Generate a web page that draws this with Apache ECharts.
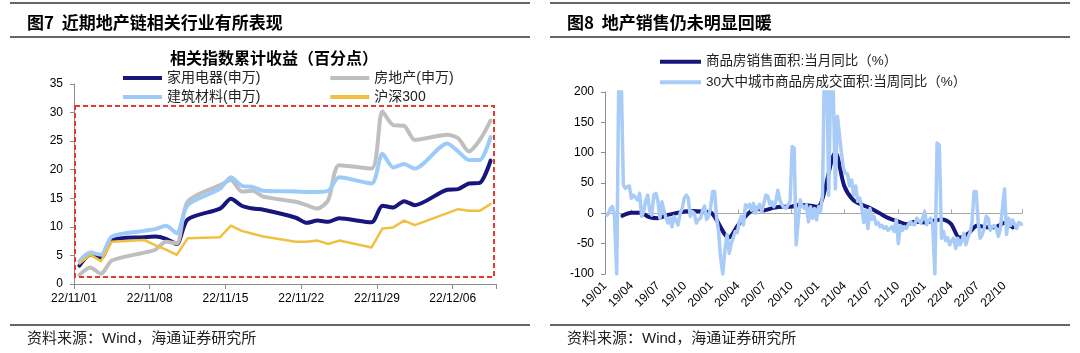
<!DOCTYPE html>
<html>
<head>
<meta charset="utf-8">
<script src="https://cdn.jsdelivr.net/npm/echarts@6/dist/echarts.min.js"></script>
<style>
	html, body { margin: 0; padding: 0; background: #fff; }
	#main { width: 1080px; height: 353px; }
</style>
</head>
<body>
<div id="main"></div>
<script>
// ---------- 图7 相关指数累计收益（百分点） ----------
const tradeDates = ['2022-11-01', '2022-11-02', '2022-11-03', '2022-11-04', '2022-11-07', '2022-11-08', '2022-11-09', '2022-11-10', '2022-11-11',
	'2022-11-14', '2022-11-15', '2022-11-16', '2022-11-17', '2022-11-18', '2022-11-21', '2022-11-22', '2022-11-23', '2022-11-24', '2022-11-25',
	'2022-11-28', '2022-11-29', '2022-11-30', '2022-12-01', '2022-12-02', '2022-12-05', '2022-12-06', '2022-12-07', '2022-12-08', '2022-12-09'];
const homeAppliance = [3.2, 5.1, 4.6, 7.7, 8.2, 8.3, 7.9, 7.0, 11.3, 13.2, 14.9, 13.7, 13.2, 13.0, 11.6, 10.7, 11.1, 10.9, 11.5,
	10.8, 13.7, 13.4, 14.5, 13.8, 16.5, 16.6, 17.6, 17.7, 21.6];
const realEstate = [1.6, 2.9, 1.8, 4.1, 5.5, 6.0, 7.4, 7.1, 14.4, 17.3, 18.2, 16.2, 16.3, 15.3, 14.4, 13.8, 13.2, 14.7, 20.8,
	20.2, 30.2, 27.8, 27.7, 25.2, 26.1, 25.5, 23.2, 25.2, 28.6];
const buildMaterial = [4.0, 5.5, 5.1, 8.3, 9.3, 9.6, 10.2, 8.9, 13.8, 16.7, 18.7, 17.2, 17.0, 16.3, 16.2, 16.1, 16.1, 16.3, 18.7,
	17.6, 22.8, 20.4, 21.0, 20.2, 24.6, 23.2, 21.7, 21.7, 25.7];
const hs300 = [3.6, 5.1, 4.0, 7.4, 7.7, 6.8, 6.0, 5.1, 8.0, 8.2, 10.2, 9.3, 8.8, 8.3, 7.4, 7.4, 7.6, 7.0, 7.6,
	6.4, 9.7, 9.9, 11.1, 10.3, 12.4, 13.1, 12.8, 12.8, 14.0];
const dayLabels = ['22/11/01', '22/11/08', '22/11/15', '22/11/22', '22/11/29', '22/12/06'];

// ---------- 图8 地产销售 ----------
const salesMonths = ['2019-02', '2019-03', '2019-04', '2019-05', '2019-06', '2019-07', '2019-08', '2019-09', '2019-10', '2019-11', '2019-12',
	'2020-02', '2020-03', '2020-04', '2020-05', '2020-06', '2020-07', '2020-08', '2020-09', '2020-10', '2020-11', '2020-12',
	'2021-02', '2021-03', '2021-04', '2021-05', '2021-06', '2021-07', '2021-08', '2021-09', '2021-10', '2021-11', '2021-12',
	'2022-02', '2022-03', '2022-04', '2022-05', '2022-06', '2022-07', '2022-08', '2022-09', '2022-10'];
const salesYoY = [-4, 1, 1, -6, -8, -3, 0, 3, 4, 3, 1,
	-40, -20, -3, 8, 5, 9, 11, 11, 14, 13, 11,
	100, 45, 22, 14, 8, 0, -8, -13, -18, -14, -15,
	-10, -17, -40, -33, -20, -23, -23, -16, -23];
const weekStart = '2019-01-06'; // 周度数据首周
const city30YoY = [
	-5, 0, 8, 11, -5, -100, 250, 230, 47, 41, 44, 45, 25, 30, 26, 22, 33, -5, 3, 20, 30, 5, -3, 30, 33, 20, -8, 19, 5, -8,
	-16, -8, -22, -5, -12, -19, 0, 8, 25, 30, 25, -5, 3, 0, -16, -10, -8, 5, 12,
	-10, -5, 10, 36, 36, -8, -30, -74, -100, -60, -35, -66, -50, -40, -30, -32, -14, -5, -19, 14, 10, 15, 5, 16, 0, 10,
	15, 3, 16, 30, 28, 15, 19, 11, 20, 38, 22, 14, 10, 8, 14, 20, 110, 107, -52, -14, 22, 12, 8,
	14, -14, 11, -8, 8, -11, 11, 3, 30, 260, 250, 30, 240, 210, 40, 160, 130, 100, 75, 66, 65, 45, 55, 30, 45, 20, 25, 10,
	-15, 5, -25, 8, -10, -5, -18, -15, -22, -20, -25, -22, -28, -25, -22, -30, -10, -50, -20, -28, -22,
	-25, -18, -14, -18, -19, -8, -12, -16, -8, 3, -19, -12, -8, -19, -100, 116, 112, -41, -30, -45, -40, -52, -45, -41, -58,
	-41, -52, -45, -33, -52, -40, -32, -15, 36, 36, -15, -41, -35, -25, -5, -8, -28, -22, -20, -25, -38, -25, 10, 40, -35,
	-8, -20, -11, -18, -25, -15, -18, -17];
const monthLabels = ['19/01', '19/04', '19/07', '19/10', '20/01', '20/04', '20/07', '20/10', '21/01', '21/04', '21/07', '21/10',
	'22/01', '22/04', '22/07', '22/10'];

const cnFont = "'Noto Sans CJK SC', sans-serif";
const numFont = "'Liberation Sans', 'Noto Sans CJK SC', sans-serif";

// 距 22/11/01 的天数，点放在当天格子中间
function dayPos(s) {
	return (Date.parse(s) - Date.parse('2022-11-01')) / 86400000 + 0.5;
}
// 距 19/01 的月数
function monthPos(d) {
	const y = d.getUTCFullYear(), m = d.getUTCMonth();
	const days = new Date(Date.UTC(y, m + 1, 0)).getUTCDate();
	return (y - 2019) * 12 + m + (d.getUTCDate() - 1) / days;
}
function dailySeries(vals) {
	return vals.map((v, i) => [dayPos(tradeDates[i]), v]);
}
const salesData = salesMonths.map((s, i) => {
	const p = s.split('-');
	return [monthPos(new Date(Date.UTC(+p[0], +p[1], 0))), salesYoY[i]];
});
const cityData = city30YoY.map((v, i) => {
	const d = new Date(Date.parse(weekStart) + i * 7 * 86400000);
	return [monthPos(d), v];
});

const axisGray = '#8c8c8c';
const labelStyle = { color: '#000', fontSize: 12, fontFamily: numFont };

function leftLine(name, data, color, width, smooth) {
	return {
		name: name, type: 'line', xAxisIndex: 0, yAxisIndex: 0,
		data: dailySeries(data), showSymbol: false, smooth: smooth,
		itemStyle: { color: color },
		lineStyle: { color: color, width: width, cap: 'round', join: 'round' }
	};
}

const chart = echarts.init(document.getElementById('main'));
chart.setOption({
	animation: false,
	title: [
		{ text: '图7  近期地产链相关行业有所表现', left: 22, top: 9, textStyle: { fontSize: 17, fontWeight: 'bold', color: '#000', fontFamily: cnFont } },
		{ text: '相关指数累计收益（百分点）', left: 165, top: 45, textStyle: { fontSize: 16, fontWeight: 'bold', color: '#000', fontFamily: cnFont } },
		{ text: '资料来源：Wind，海通证券研究所', left: 22, top: 326, textStyle: { fontSize: 15, fontWeight: 'normal', color: '#222', fontFamily: numFont } },
		{ text: '图8  地产销售仍未明显回暖', left: 562, top: 9, textStyle: { fontSize: 17, fontWeight: 'bold', color: '#000', fontFamily: cnFont } },
		{ text: '资料来源：Wind，海通证券研究所', left: 562, top: 326, textStyle: { fontSize: 15, fontWeight: 'normal', color: '#222', fontFamily: numFont } }
	],
	graphic: [
		{ type: 'line', shape: { x1: 10, y1: 3, x2: 530, y2: 3 }, style: { stroke: '#333', lineWidth: 1.5 } },
		{ type: 'line', shape: { x1: 10, y1: 37, x2: 530, y2: 37 }, style: { stroke: '#333', lineWidth: 1.5 } },
		{ type: 'line', shape: { x1: 10, y1: 325, x2: 530, y2: 325 }, style: { stroke: '#333', lineWidth: 1.5 } },
		{ type: 'line', shape: { x1: 550, y1: 3, x2: 1070, y2: 3 }, style: { stroke: '#333', lineWidth: 1.5 } },
		{ type: 'line', shape: { x1: 550, y1: 37, x2: 1070, y2: 37 }, style: { stroke: '#333', lineWidth: 1.5 } },
		{ type: 'line', shape: { x1: 550, y1: 325, x2: 1070, y2: 325 }, style: { stroke: '#333', lineWidth: 1.5 } },
		// 红色虚线框
		{ type: 'rect', z: 10, shape: { x: 75, y: 106, width: 419, height: 171 }, style: { fill: 'none', stroke: '#e23a32', lineWidth: 2, lineDash: [5, 3] } }
	],
	legend: [
		{
			data: ['家用电器(申万)', '房地产(申万)'], left: 118, top: 66, itemGap: 70,
			icon: 'rect', itemWidth: 39, itemHeight: 4,
			textStyle: { fontSize: 14, color: '#222', fontFamily: numFont }
		},
		{
			data: ['建筑材料(申万)', '沪深300'], left: 118, top: 85, itemGap: 70,
			icon: 'rect', itemWidth: 39, itemHeight: 4,
			textStyle: { fontSize: 14, color: '#222', fontFamily: numFont }
		},
		{
			data: ['商品房销售面积:当月同比（%）', '30大中城市商品房成交面积:当周同比（%）'], left: 655, top: 50,
			orient: 'vertical', itemGap: 7, icon: 'rect', itemWidth: 41, itemHeight: 4,
			textStyle: { fontSize: 13.5, color: '#222', fontFamily: numFont }
		}
	],
	grid: [
		{ left: 74, top: 84, width: 422, height: 200 },
		{ left: 605, top: 92, width: 417, height: 182 }
	],
	xAxis: [
		{
			gridIndex: 0, type: 'value', min: 0, max: 39, interval: 7,
			splitLine: { show: false },
			axisLine: { lineStyle: { color: axisGray } },
			axisTick: { length: 5, lineStyle: { color: axisGray } },
			axisLabel: Object.assign({ margin: 9, formatter: v => (v % 7 === 0 ? dayLabels[v / 7] : '') }, labelStyle)
		},
		{
			// 图8 底部日期标签
			gridIndex: 1, type: 'value', min: 0, max: 47, interval: 3,
			splitLine: { show: false },
			axisLine: { show: false, onZero: false },
			axisTick: { show: false },
			axisLabel: Object.assign({ rotate: 45, margin: 10, showMaxLabel: false, formatter: v => (v % 3 === 0 ? monthLabels[v / 3] : '') }, labelStyle)
		},
		{
			// 图8 零轴
			gridIndex: 1, type: 'value', min: 0, max: 47, interval: 3,
			splitLine: { show: false },
			axisLine: { onZero: true, lineStyle: { color: '#a6a6a6' } },
			axisTick: { length: 4, lineStyle: { color: '#a6a6a6' } },
			axisLabel: { show: false }
		}
	],
	yAxis: [
		{
			gridIndex: 0, type: 'value', min: 0, max: 35, interval: 5,
			splitLine: { show: false },
			axisLine: { show: true, lineStyle: { color: axisGray } },
			axisTick: { show: true, length: 4, lineStyle: { color: axisGray } },
			axisLabel: Object.assign({ margin: 11 }, labelStyle)
		},
		{
			gridIndex: 1, type: 'value', min: -100, max: 200, interval: 50,
			splitLine: { show: false },
			axisLine: { show: true, lineStyle: { color: axisGray } },
			axisTick: { show: true, length: 4, lineStyle: { color: axisGray } },
			axisLabel: Object.assign({ margin: 11 }, labelStyle)
		}
	],
	series: [
		leftLine('家用电器(申万)', homeAppliance, '#16167c', 4, 0.25),
		leftLine('房地产(申万)', realEstate, '#bfbfbf', 4, 0.25),
		leftLine('建筑材料(申万)', buildMaterial, '#9ccbfa', 4, 0.25),
		leftLine('沪深300', hs300, '#f0c040', 2.5, false),
		{
			name: '商品房销售面积:当月同比（%）', type: 'line', xAxisIndex: 1, yAxisIndex: 1,
			data: salesData, showSymbol: false, smooth: 0.3,
			itemStyle: { color: '#16167c' },
			lineStyle: { color: '#16167c', width: 4, cap: 'round', join: 'round' }
		},
		{
			name: '30大中城市商品房成交面积:当周同比（%）', type: 'line', xAxisIndex: 1, yAxisIndex: 1,
			data: cityData, showSymbol: false,
			itemStyle: { color: '#a8cbf8' },
			lineStyle: { color: '#a8cbf8', width: 3.5, join: 'round' }
		}
	]
});
</script>
</body>
</html>
